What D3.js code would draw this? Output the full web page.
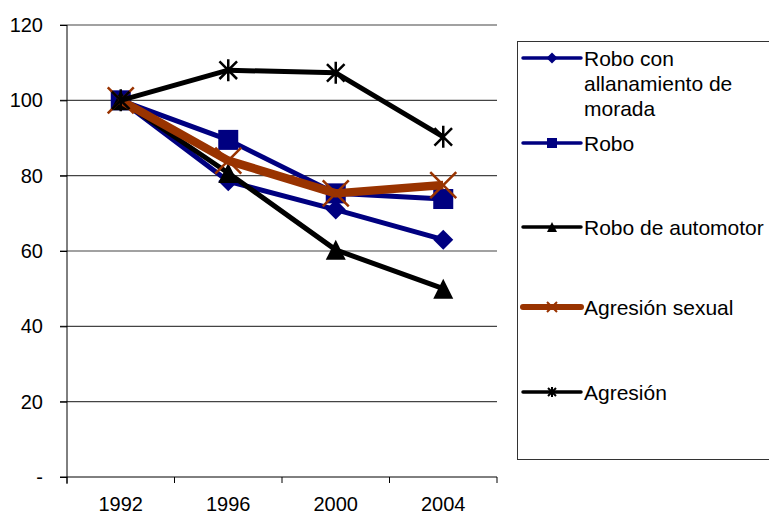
<!DOCTYPE html>
<html>
<head>
    <title>Delitos 1992-2004</title>
    <script src="https://d3js.org/d3.v7.min.js"></script>
    <style>
        body { margin: 0; background-color: white; }
        text { font-family: "Liberation Sans", Arial, sans-serif; fill: black; }
    </style>
</head>
<body>
    <script>
        // data
        const years = ["1992", "1996", "2000", "2004"];
        const seriesNames = ["Robo con allanamiento de morada", "Robo", "Robo de automotor", "Agresión sexual", "Agresión"];
        const roboAllanamiento = [100, 78.5, 71, 63];
        const robo = [100, 89.5, 75.3, 73.8];
        const roboAutomotor = [100, 80.7, 60.3, 50];
        const agresionSexual = [100, 84, 75.3, 77.5];
        const agresion = [100, 108, 107.3, 90.3];
        const yTicks = [0, 20, 40, 60, 80, 100, 120];

        const series = [
            {name: seriesNames[0], values: roboAllanamiento, color: "#000080", width: 5, marker: "diamond",
             legendLines: ["Robo con", "allanamiento de", "morada"]},
            {name: seriesNames[1], values: robo, color: "#000080", width: 5, marker: "square", legendLines: ["Robo"]},
            {name: seriesNames[2], values: roboAutomotor, color: "#000000", width: 5, marker: "triangle", legendLines: ["Robo de automotor"]},
            {name: seriesNames[3], values: agresionSexual, color: "#993300", width: 8.5, marker: "x", legendLines: ["Agresión sexual"]},
            {name: seriesNames[4], values: agresion, color: "#000000", width: 5, marker: "star", legendLines: ["Agresión"]}
        ];

        const W = 769, H = 515;
        const plotLeft = 67, plotRight = 497, plotTop = 25, plotBottom = 477;

        const svg = d3.select("body").append("svg")
            .attr("width", W)
            .attr("height", H);

        const x = d3.scaleBand().domain(years).range([plotLeft, plotRight]).padding(0);
        const y = d3.scaleLinear().domain([0, 120]).range([plotBottom, plotTop]);

        // gridlines
        svg.append("g").selectAll("line")
            .data(yTicks.filter(d => d > 0))
            .enter().append("line")
            .attr("x1", plotLeft - 7).attr("x2", plotRight)
            .attr("y1", d => y(d)).attr("y2", d => y(d))
            .attr("stroke", "#444").attr("stroke-width", 1.2);

        // y axis
        const yAxis = svg.append("g")
            .attr("transform", "translate(" + plotLeft + ",0)")
            .call(d3.axisLeft(y).tickValues(yTicks).tickSize(7).tickPadding(17)
                .tickFormat(d => d === 0 ? "-" : d));
        yAxis.select(".domain").remove();
        yAxis.append("line").attr("x1", 0).attr("x2", 0).attr("y1", plotTop).attr("y2", plotBottom + 7).attr("stroke", "black");
        yAxis.selectAll("text").style("font-size", "20px").attr("font-family", "Liberation Sans, Arial, sans-serif");

        // x axis
        const xAxis = svg.append("g")
            .attr("transform", "translate(0," + plotBottom + ")")
            .call(d3.axisBottom(x).tickSize(0).tickPadding(20));
        xAxis.select(".domain").remove();
        xAxis.append("line").attr("x1", plotLeft - 7).attr("x2", plotRight).attr("stroke", "black");
        xAxis.selectAll(".bound")
            .data(years.map(d => x(d)).concat([plotRight]))
            .enter().append("line")
            .attr("class", "bound")
            .attr("x1", d => d).attr("x2", d => d)
            .attr("y1", 0).attr("y2", 6)
            .attr("stroke", "black");
        xAxis.selectAll("text").style("font-size", "20px").attr("font-family", "Liberation Sans, Arial, sans-serif");

        // marker drawing
        function drawMarker(g, type, cx, cy, color, s, sw) {
            if (type === "diamond") {
                g.append("path")
                    .attr("d", `M${cx},${cy - s}L${cx + s},${cy}L${cx},${cy + s}L${cx - s},${cy}Z`)
                    .attr("fill", color);
            } else if (type === "square") {
                g.append("rect")
                    .attr("x", cx - s).attr("y", cy - s)
                    .attr("width", 2 * s).attr("height", 2 * s)
                    .attr("fill", color);
            } else if (type === "triangle") {
                g.append("path")
                    .attr("d", `M${cx},${cy - s}L${cx + s},${cy + s}L${cx - s},${cy + s}Z`)
                    .attr("fill", color);
            } else if (type === "x") {
                g.append("path")
                    .attr("d", `M${cx - s},${cy - s}L${cx + s},${cy + s}M${cx - s},${cy + s}L${cx + s},${cy - s}`)
                    .attr("stroke", color).attr("stroke-width", sw).attr("fill", "none");
            } else if (type === "star") {
                g.append("path")
                    .attr("d", `M${cx - s * 0.8},${cy - s * 0.8}L${cx + s * 0.8},${cy + s * 0.8}M${cx - s * 0.8},${cy + s * 0.8}L${cx + s * 0.8},${cy - s * 0.8}M${cx},${cy - s}L${cx},${cy + s}`)
                    .attr("stroke", color).attr("stroke-width", sw).attr("fill", "none");
            }
        }

        const markerSize = {diamond: 10, square: 10, triangle: 10, x: 13, star: 11};

        const line = d3.line()
            .x((d, i) => x(years[i]) + x.bandwidth() / 2)
            .y(d => y(d));

        series.forEach(function (s) {
            const g = svg.append("g");
            g.append("path")
                .datum(s.values)
                .attr("d", line)
                .attr("fill", "none")
                .attr("stroke", s.color)
                .attr("stroke-width", s.width)
                .attr("stroke-linejoin", "round");
            s.values.forEach(function (v, i) {
                drawMarker(g, s.marker, x(years[i]) + x.bandwidth() / 2, y(v), s.color, markerSize[s.marker], 2.5);
            });
        });

        // legend
        const legend = svg.append("g");
        legend.append("rect")
            .attr("x", 517.5).attr("y", 41.5)
            .attr("width", 270).attr("height", 418)
            .attr("fill", "white").attr("stroke", "#333").attr("stroke-width", 1);

        const legendY = [58, 143, 227, 307, 392];
        series.forEach(function (s, i) {
            const g = legend.append("g");
            const ly = legendY[i];
            g.append("line")
                .attr("x1", 523).attr("x2", 581)
                .attr("y1", ly).attr("y2", ly)
                .attr("stroke", s.color)
                .attr("stroke-width", s.width > 6 ? 6 : 3.5)
                .attr("stroke-linecap", "round");
            drawMarker(g, s.marker, 552, ly, s.color, s.marker === "diamond" ? 5.5 : 5, 2);
            s.legendLines.forEach(function (t, j) {
                g.append("text")
                    .attr("x", 584)
                    .attr("y", ly + j * 25)
                    .attr("dy", "0.36em")
                    .style("font-size", "21px")
                    .text(t);
            });
        });
    </script>
</body>
</html>
